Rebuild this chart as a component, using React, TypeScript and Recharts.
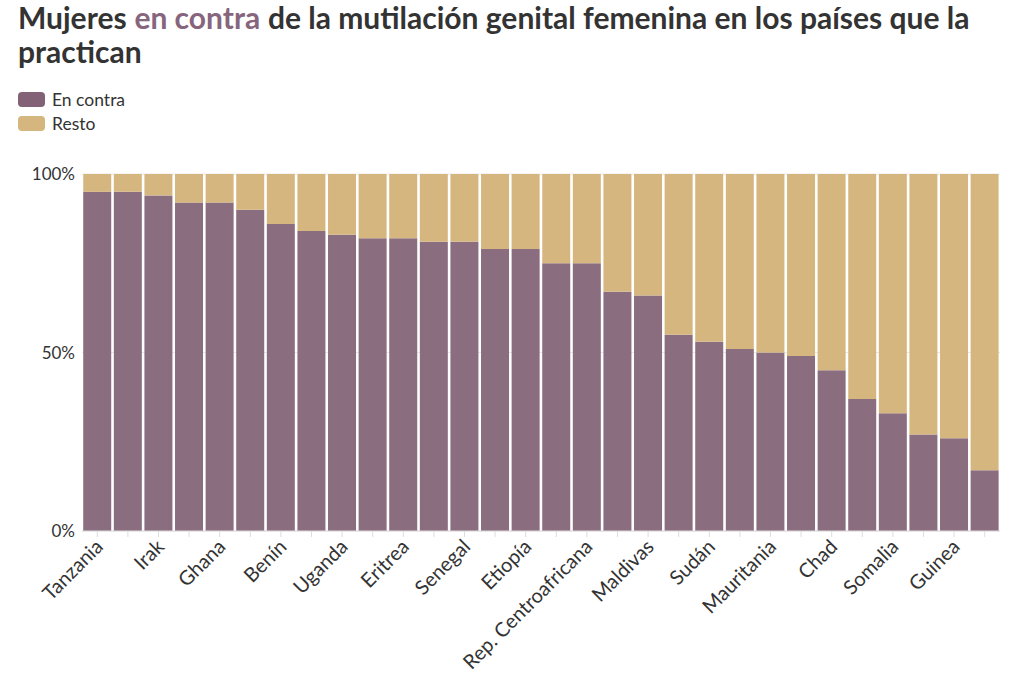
import { BarChart, Bar, XAxis, YAxis, CartesianGrid } from "recharts";

const countries = [
  "Tanzania", "Togo", "Irak", "Camerún", "Ghana", "Kenia", "Benín", "Burkina Faso",
  "Uganda", "Níger", "Eritrea", "Yemen", "Senegal", "Guinea-Bisáu", "Etiopía",
  "Costa de Marfil", "Rep. Centroafricana", "Nigeria", "Maldivas", "Liberia", "Sudán",
  "Yibuti", "Mauritania", "Egipto", "Chad", "Gambia", "Somalia", "Sierra Leona",
  "Guinea", "Mali",
];

const enContra = [
  95, 95, 94, 92, 92, 90, 86, 84, 83, 82, 82, 81, 81, 79, 79,
  75, 75, 67, 66, 55, 53, 51, 50, 49, 45, 37, 33, 27, 26, 17,
];

const resto = [
  5, 5, 6, 8, 8, 10, 14, 16, 17, 18, 18, 19, 19, 21, 21,
  25, 25, 33, 34, 45, 47, 49, 50, 51, 55, 63, 67, 73, 74, 83,
];

const yTicks = [0, 50, 100];

const PURPLE = "#8b6d80";
const TAN = "#d6b67f";
const FONT = "Lato, 'Noto Sans', sans-serif";

const data = countries.map((name, i) => ({ name, enContra: enContra[i], resto: resto[i] }));

function CountryTick(props: any) {
  const { x, y, payload } = props;
  const i = countries.indexOf(payload.value);
  if (i % 2 !== 0) return null;
  return (
    <text
      transform={`translate(${x + 7},${y + 9}) rotate(-45)`}
      textAnchor="end"
      fontSize={20}
      fill="#333"
      fontFamily={FONT}
    >
      {payload.value}
    </text>
  );
}

function Swatch({ color, label }: { color: string; label: string }) {
  return (
    <div style={{ display: "flex", alignItems: "center", height: 24 }}>
      <div style={{ width: 27, height: 15, borderRadius: 4, background: color, marginRight: 7 }} />
      <span style={{ fontSize: 17.5, color: "#333" }}>{label}</span>
    </div>
  );
}

export default function App() {
  return (
    <div style={{ position: "absolute", left: 0, top: 0, width: 1024, height: 685, background: "#fff", fontFamily: FONT }}>
      <div
        style={{
          position: "absolute",
          left: 18,
          top: 0,
          fontSize: 30,
          fontWeight: 700,
          lineHeight: "34px",
          color: "#333",
        }}
      >
        <div style={{ display: "flex", whiteSpace: "nowrap" }}>
          <span>Mujeres</span>
          <span style={{ color: "#86657d", marginLeft: "0.26em", marginRight: "0.26em" }}>en contra</span>
          <span>de la mutilación genital femenina en los países que la</span>
        </div>
        <div>practican</div>
      </div>
      <div style={{ position: "absolute", left: 18, top: 87 }}>
        <Swatch color="#836277" label="En contra" />
        <Swatch color={TAN} label="Resto" />
      </div>
      <div style={{ position: "absolute", left: 0, top: 150 }}>
        <BarChart
          width={1024}
          height={535}
          data={data}
          margin={{ top: 24, right: 24, left: 0, bottom: 0 }}
          barCategoryGap="4%"
        >
          <CartesianGrid vertical={false} stroke="#e8e8e8" />
          <XAxis
            dataKey="name"
            interval={0}
            height={154}
            axisLine={{ stroke: "#ddd" }}
            tickLine={{ stroke: "#ddd" }}
            tickSize={6}
            tickMargin={2}
            tick={<CountryTick />}
          />
          <YAxis
            domain={[0, 100]}
            ticks={yTicks}
            width={82}
            axisLine={false}
            tickLine={false}
            tickSize={0}
            tickMargin={7}
            tickFormatter={(v: number) => `${v}%`}
            tick={{ fontSize: 17, fill: "#333", fontFamily: FONT }}
          />
          <Bar dataKey="enContra" stackId="a" fill={PURPLE} isAnimationActive={false} />
          <Bar dataKey="resto" stackId="a" fill={TAN} isAnimationActive={false} />
        </BarChart>
      </div>
    </div>
  );
}
